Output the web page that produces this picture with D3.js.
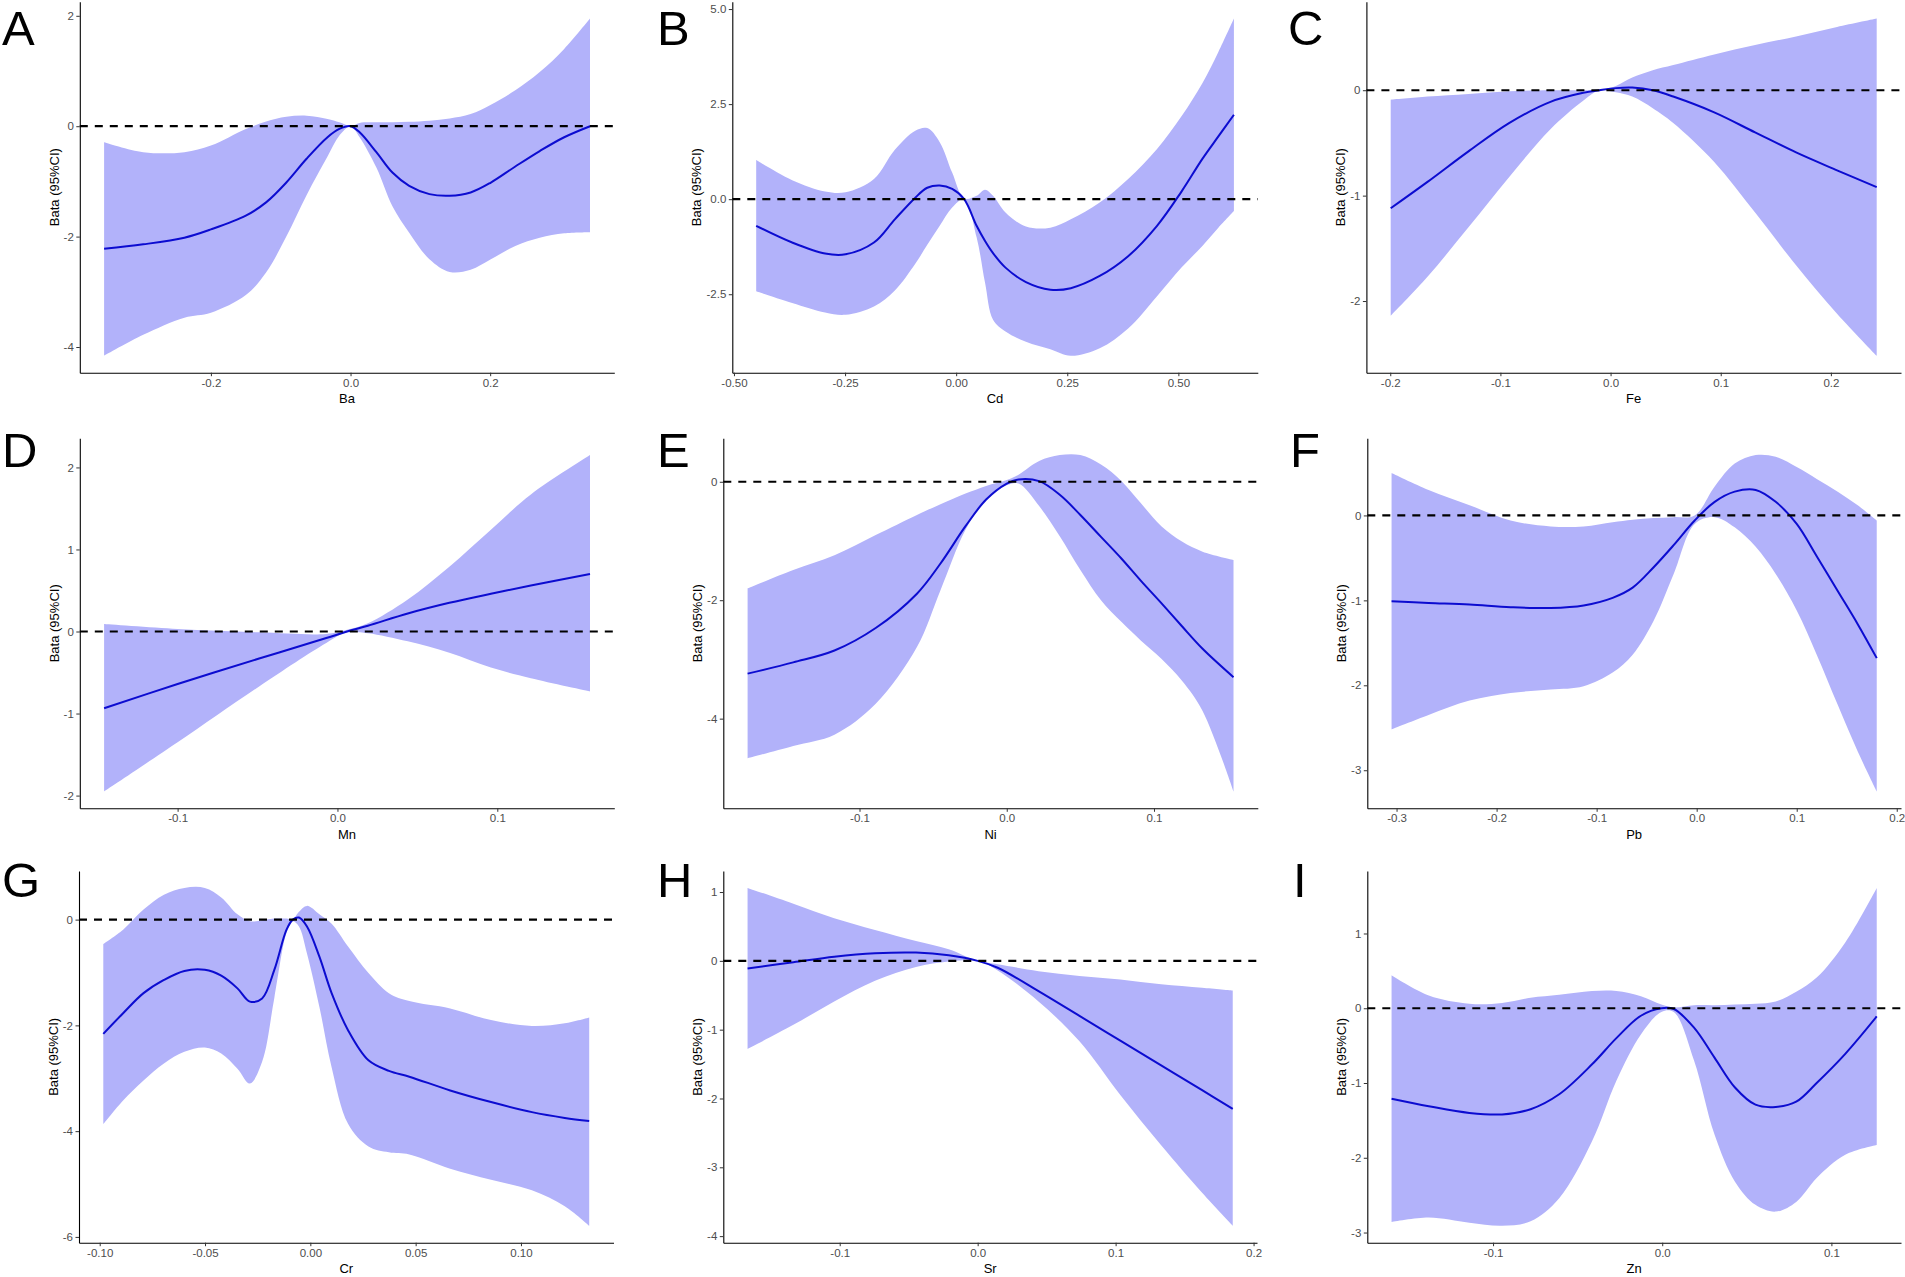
<!DOCTYPE html>
<html>
<head>
<meta charset="utf-8">
<script src="https://cdn.jsdelivr.net/npm/d3@7"></script>
<style>
  body { margin: 0; background: #fff; }
  text { font-family: "Liberation Sans", Arial, sans-serif; }
</style>
</head>
<body>
<svg id="chart" width="1905" height="1277"></svg>
<script>
// ---- data (exposure, fitted beta, 95% CI) ----

// A: Ba
var baX   = [-0.353, -0.297, -0.238, -0.200, -0.150, -0.121, -0.092, -0.063, -0.033, -0.016, 0.000, 0.013, 0.037, 0.060, 0.084, 0.113, 0.142, 0.172, 0.201, 0.236, 0.271, 0.306, 0.343];
var baFit = [-2.22, -2.14, -2.02, -1.87, -1.62, -1.38, -1.02, -0.59, -0.20, -0.05, 0.00, -0.11, -0.47, -0.84, -1.08, -1.23, -1.26, -1.20, -1.02, -0.73, -0.45, -0.20, 0.00];
var baLo  = [-4.16, -3.78, -3.47, -3.38, -3.06, -2.65, -2.00, -1.25, -0.55, -0.17, 0.00, -0.20, -0.75, -1.45, -1.93, -2.41, -2.64, -2.60, -2.41, -2.17, -2.02, -1.94, -1.92];
var baHi  = [-0.29, -0.47, -0.47, -0.35, -0.05, 0.085, 0.17, 0.19, 0.13, 0.07, 0.00, 0.06, 0.07, 0.07, 0.08, 0.10, 0.14, 0.22, 0.39, 0.65, 0.98, 1.40, 1.95];
var baXTicks = [-0.2, 0, 0.2];
var baYTicks = [-4, -2, 0, 2];

// B: Cd
var cdX   = [-0.450, -0.369, -0.295, -0.249, -0.185, -0.138, -0.092, -0.065, -0.037, -0.009, 0.018, 0.046, 0.065, 0.083, 0.111, 0.157, 0.212, 0.258, 0.323, 0.387, 0.452, 0.507, 0.554, 0.590, 0.625];
var cdFit = [-0.70, -1.14, -1.43, -1.45, -1.14, -0.53, 0.04, 0.30, 0.36, 0.27, 0.00, -0.70, -1.10, -1.42, -1.80, -2.18, -2.38, -2.34, -2.02, -1.50, -0.70, 0.20, 1.06, 1.65, 2.22];
var cdLo  = [-2.42, -2.73, -2.98, -3.04, -2.82, -2.40, -1.70, -1.20, -0.70, -0.22, 0.00, -1.00, -2.20, -3.17, -3.48, -3.75, -3.95, -4.12, -3.92, -3.40, -2.55, -1.80, -1.23, -0.75, -0.31];
var cdHi  = [1.03, 0.50, 0.20, 0.18, 0.53, 1.30, 1.80, 1.87, 1.50, 0.70, 0.02, 0.09, 0.25, 0.09, -0.35, -0.72, -0.75, -0.53, -0.09, 0.53, 1.32, 2.18, 3.05, 3.87, 4.75];
var cdXTicks = [-0.5, -0.25, 0, 0.25, 0.5];
var cdYTicks = [-2.5, 0, 2.5, 5];

// C: Fe
var feX   = [-0.1996, -0.1662, -0.1290, -0.0918, -0.0546, -0.0249, -0.0100, 0.0048, 0.0197, 0.0383, 0.0569, 0.0941, 0.1312, 0.1684, 0.2056, 0.2416];
var feFit = [-1.12, -0.87, -0.58, -0.31, -0.11, -0.025, 0.00, 0.02, 0.025, 0.00, -0.06, -0.21, -0.40, -0.59, -0.76, -0.92];
var feLo  = [-2.14, -1.77, -1.30, -0.82, -0.37, -0.10, 0.00, -0.02, -0.06, -0.17, -0.31, -0.68, -1.16, -1.66, -2.12, -2.52];
var feHi  = [-0.09, -0.06, -0.035, -0.01, 0.00, 0.00, 0.00, 0.04, 0.12, 0.19, 0.24, 0.34, 0.43, 0.51, 0.60, 0.68];
var feXTicks = [-0.2, -0.1, 0, 0.1, 0.2];
var feYTicks = [-2, -1, 0];

// D: Mn
var mnX   = [-0.146, -0.100, -0.049, -0.007, 0.006, 0.019, 0.044, 0.070, 0.096, 0.121, 0.158];
var mnFit = [-0.935, -0.64, -0.33, -0.08, 0.00, 0.07, 0.22, 0.35, 0.46, 0.56, 0.70];
var mnLo  = [-1.95, -1.35, -0.67, -0.14, -0.01, -0.02, -0.12, -0.26, -0.44, -0.57, -0.73];
var mnHi  = [0.09, 0.03, -0.01, -0.03, 0.02, 0.10, 0.39, 0.79, 1.24, 1.67, 2.15];
var mnXTicks = [-0.1, 0, 0.1];
var mnYTicks = [-2, -1, 0, 1, 2];

// E: Ni
var niX   = [-0.176, -0.145, -0.117, -0.089, -0.061, -0.045, -0.028, -0.014, 0.000, 0.008, 0.022, 0.036, 0.050, 0.064, 0.078, 0.091, 0.105, 0.119, 0.133, 0.154];
var niFit = [-3.24, -3.05, -2.85, -2.47, -1.89, -1.38, -0.75, -0.30, -0.03, 0.04, 0.01, -0.22, -0.56, -0.93, -1.30, -1.67, -2.05, -2.44, -2.82, -3.30];
var niLo  = [-4.67, -4.46, -4.27, -3.75, -2.79, -1.83, -0.81, -0.30, -0.06, -0.03, -0.41, -0.92, -1.49, -2.00, -2.37, -2.68, -2.99, -3.36, -3.87, -5.23];
var niHi  = [-1.80, -1.49, -1.24, -0.90, -0.56, -0.38, -0.20, -0.07, 0.03, 0.12, 0.35, 0.45, 0.45, 0.29, 0.01, -0.36, -0.75, -1.01, -1.18, -1.32];
var niXTicks = [-0.1, 0, 0.1];
var niYTicks = [-4, -2, 0];

// F: Pb
var pbX   = [-0.305, -0.268, -0.227, -0.186, -0.146, -0.113, -0.084, -0.064, -0.043, -0.023, -0.002, 0.018, 0.038, 0.059, 0.079, 0.100, 0.120, 0.141, 0.161, 0.180];
var pbFit = [-1.01, -1.03, -1.05, -1.08, -1.09, -1.06, -0.97, -0.85, -0.61, -0.35, -0.06, 0.16, 0.28, 0.30, 0.16, -0.10, -0.48, -0.89, -1.28, -1.68];
var pbLo  = [-2.52, -2.35, -2.18, -2.09, -2.05, -2.01, -1.85, -1.64, -1.24, -0.69, -0.10, -0.02, -0.14, -0.37, -0.69, -1.12, -1.64, -2.23, -2.78, -3.25];
var pbHi  = [0.50, 0.30, 0.12, -0.06, -0.13, -0.13, -0.08, -0.05, -0.03, -0.02, 0.00, 0.34, 0.61, 0.71, 0.69, 0.57, 0.43, 0.28, 0.12, -0.06];
var pbXTicks = [-0.3, -0.2, -0.1, 0, 0.1, 0.2];
var pbYTicks = [-3, -2, -1, 0];

// G: Cr
var crX   = [-0.0983, -0.0889, -0.0792, -0.0695, -0.0598, -0.0501, -0.0423, -0.0346, -0.0287, -0.0229, -0.0171, -0.0113, -0.0083, -0.0054, -0.0016, 0.0043, 0.0101, 0.0179, 0.0276, 0.0373, 0.0470, 0.0664, 0.0858, 0.1052, 0.1208, 0.1324];
var crFit = [-2.16, -1.77, -1.39, -1.14, -0.97, -0.95, -1.06, -1.30, -1.55, -1.49, -0.95, -0.19, 0.00, 0.04, -0.13, -0.70, -1.39, -2.09, -2.66, -2.86, -2.97, -3.23, -3.45, -3.64, -3.75, -3.81];
var crLo  = [-3.87, -3.42, -3.04, -2.72, -2.50, -2.42, -2.53, -2.82, -3.10, -2.69, -1.48, -0.25, -0.03, -0.13, -0.64, -1.65, -2.79, -3.86, -4.29, -4.40, -4.44, -4.71, -4.92, -5.12, -5.42, -5.79];
var crHi  = [-0.46, -0.19, 0.19, 0.47, 0.60, 0.60, 0.42, 0.10, -0.03, -0.01, 0.02, 0.02, 0.01, 0.15, 0.26, 0.10, -0.08, -0.51, -1.01, -1.39, -1.54, -1.68, -1.90, -2.01, -1.96, -1.85];
var crXTicks = [-0.1, -0.05, 0, 0.05, 0.1];
var crYTicks = [-6, -4, -2, 0];

// H: Sr
var srX   = [-0.1668, -0.1336, -0.1040, -0.0744, -0.0447, -0.0210, 0.0000, 0.0145, 0.0441, 0.0738, 0.1034, 0.1330, 0.1627, 0.1849];
var srFit = [-0.11, -0.02, 0.06, 0.11, 0.12, 0.08, 0.00, -0.10, -0.44, -0.80, -1.16, -1.52, -1.88, -2.15];
var srLo  = [-1.28, -0.93, -0.59, -0.29, -0.09, -0.01, 0.00, -0.14, -0.59, -1.17, -1.95, -2.68, -3.37, -3.85];
var srHi  = [1.06, 0.83, 0.62, 0.45, 0.29, 0.17, 0.00, -0.05, -0.15, -0.22, -0.27, -0.34, -0.39, -0.43];
var srXTicks = [-0.1, 0, 0.1, 0.2];
var srYTicks = [-4, -3, -2, -1, 0, 1];

// I: Zn
var znX   = [-0.160, -0.138, -0.114, -0.0947, -0.0778, -0.0609, -0.0415, -0.0271, -0.0126, -0.0005, 0.0068, 0.0188, 0.0309, 0.0430, 0.0551, 0.0671, 0.0792, 0.0913, 0.1082, 0.1268];
var znFit = [-1.21, -1.31, -1.40, -1.42, -1.35, -1.15, -0.75, -0.40, -0.10, 0.00, -0.01, -0.26, -0.66, -1.06, -1.29, -1.32, -1.25, -1.00, -0.61, -0.11];
var znLo  = [-2.86, -2.80, -2.87, -2.91, -2.85, -2.54, -1.78, -0.97, -0.35, -0.05, -0.05, -0.70, -1.69, -2.32, -2.63, -2.72, -2.59, -2.27, -1.96, -1.83];
var znHi  = [0.44, 0.17, 0.06, 0.07, 0.14, 0.18, 0.23, 0.23, 0.16, 0.05, 0.01, 0.04, 0.04, 0.05, 0.06, 0.09, 0.22, 0.41, 0.88, 1.61];
var znXTicks = [-0.1, 0, 0.1];
var znYTicks = [-3, -2, -1, 0, 1];

var yTitle = "Bata (95%CI)";

// ---- layout ----
var rowTop = [1.7, 438.3, 871];
var rowBottom = [372.7, 808.3, 1242.7];
var letterBase = [45, 467, 897];

var panels = [
  {letter: "A", name: "Ba", x: baX, fit: baFit, lo: baLo, hi: baHi, xTicks: baXTicks, yTicks: baYTicks, xFmt: ".1f", yFmt: "d",   left: 79.8,   right: 614.3, row: 0, labX: 2},
  {letter: "B", name: "Cd", x: cdX, fit: cdFit, lo: cdLo, hi: cdHi, xTicks: cdXTicks, yTicks: cdYTicks, xFmt: ".2f", yFmt: ".1f", left: 732.3,  right: 1257.8, row: 0, labX: 657},
  {letter: "C", name: "Fe", x: feX, fit: feFit, lo: feLo, hi: feHi, xTicks: feXTicks, yTicks: feYTicks, xFmt: ".1f", yFmt: "d",   left: 1366.4, right: 1901, row: 0, labX: 1288},
  {letter: "D", name: "Mn", x: mnX, fit: mnFit, lo: mnLo, hi: mnHi, xTicks: mnXTicks, yTicks: mnYTicks, xFmt: ".1f", yFmt: "d",   left: 79.8,   right: 614.3, row: 1, labX: 2},
  {letter: "E", name: "Ni", x: niX, fit: niFit, lo: niLo, hi: niHi, xTicks: niXTicks, yTicks: niYTicks, xFmt: ".1f", yFmt: "d",   left: 723.3,  right: 1257.8, row: 1, labX: 657},
  {letter: "F", name: "Pb", x: pbX, fit: pbFit, lo: pbLo, hi: pbHi, xTicks: pbXTicks, yTicks: pbYTicks, xFmt: ".1f", yFmt: "d",   left: 1367.3, right: 1901, row: 1, labX: 1290},
  {letter: "G", name: "Cr", x: crX, fit: crFit, lo: crLo, hi: crHi, xTicks: crXTicks, yTicks: crYTicks, xFmt: ".2f", yFmt: "d",   left: 79,     right: 613.5, row: 2, labX: 2},
  {letter: "H", name: "Sr", x: srX, fit: srFit, lo: srLo, hi: srHi, xTicks: srXTicks, yTicks: srYTicks, xFmt: ".1f", yFmt: "d",   left: 723.3,  right: 1257, row: 2, labX: 657},
  {letter: "I", name: "Zn", x: znX, fit: znFit, lo: znLo, hi: znHi, xTicks: znXTicks, yTicks: znYTicks, xFmt: ".1f", yFmt: "d",   left: 1367.3, right: 1901, row: 2, labX: 1293}
];

// ggplot-style labels use a plain hyphen for the minus sign
var locale = d3.formatLocale({decimal: ".", thousands: ",", grouping: [3], currency: ["", ""], minus: "-"});

var svg = d3.select("#chart");
svg.append("rect").attr("width", 1905).attr("height", 1277).attr("fill", "#fff");

function expand(ext) {
  var pad = (ext[1] - ext[0]) * 0.05;
  return [ext[0] - pad, ext[1] + pad];
}

var smooth = d3.curveCatmullRom.alpha(0.5);

function drawPanel(p) {
  var top = rowTop[p.row], bottom = rowBottom[p.row];
  var g = svg.append("g").attr("class", "panel");

  var x = d3.scaleLinear()
    .domain(expand(d3.extent(p.x)))
    .range([p.left, p.right]);

  var y = d3.scaleLinear()
    .domain(expand(d3.extent(p.lo.concat(p.hi, p.fit, [0]))))
    .range([bottom, top]);

  // confidence band
  var band = d3.area()
    .x(function(d, i) { return x(p.x[i]); })
    .y0(function(d, i) { return y(p.lo[i]); })
    .y1(function(d, i) { return y(p.hi[i]); })
    .curve(smooth);

  g.append("path")
    .datum(p.x)
    .attr("d", band)
    .attr("fill", "#b2b2fa");

  // fitted curve
  var line = d3.line()
    .x(function(d, i) { return x(p.x[i]); })
    .y(function(d, i) { return y(p.fit[i]); })
    .curve(smooth);

  g.append("path")
    .datum(p.x)
    .attr("d", line)
    .attr("fill", "none")
    .attr("stroke", "#0c0cd0")
    .attr("stroke-width", 2);

  // reference line at zero
  g.append("line")
    .attr("x1", p.left)
    .attr("x2", p.right)
    .attr("y1", y(0))
    .attr("y2", y(0))
    .attr("stroke", "#000")
    .attr("stroke-width", 2.2)
    .attr("stroke-dasharray", "8,7");

  // axes
  var xAxis = d3.axisBottom(x)
    .tickValues(p.xTicks)
    .tickFormat(locale.format(p.xFmt))
    .tickSizeInner(3.5)
    .tickSizeOuter(0)
    .tickPadding(2.5);

  var yAxis = d3.axisLeft(y)
    .tickValues(p.yTicks)
    .tickFormat(locale.format(p.yFmt))
    .tickSizeInner(3.5)
    .tickSizeOuter(0)
    .tickPadding(2.5);

  var xg = g.append("g")
    .attr("transform", "translate(0," + bottom + ")")
    .call(xAxis);

  var yg = g.append("g")
    .attr("transform", "translate(" + p.left + ",0)")
    .call(yAxis);

  [xg, yg].forEach(function(ax) {
    ax.attr("font-family", null).attr("font-size", null);
    ax.select(".domain").attr("stroke", "#000").attr("stroke-width", 1.1);
    ax.selectAll(".tick line").attr("stroke", "#333").attr("stroke-width", 1);
    ax.selectAll(".tick text").attr("fill", "#4d4d4d").attr("font-size", "11.5px");
  });

  // axis titles
  g.append("text")
    .attr("x", (p.left + p.right) / 2)
    .attr("y", bottom + 30.5)
    .attr("text-anchor", "middle")
    .attr("font-size", "13px")
    .attr("fill", "#000")
    .text(p.name);

  var bb = yg.node().getBBox();
  var tx = p.left + bb.x - 9.5;
  var ty = (top + bottom) / 2;
  g.append("text")
    .attr("transform", "translate(" + tx + "," + ty + ") rotate(-90)")
    .attr("text-anchor", "middle")
    .attr("dominant-baseline", "central")
    .attr("font-size", "13px")
    .attr("fill", "#000")
    .text(yTitle);

  // panel letter
  svg.append("text")
    .attr("x", p.labX)
    .attr("y", letterBase[p.row])
    .attr("font-size", "49px")
    .attr("fill", "#000")
    .text(p.letter);
}

panels.forEach(drawPanel);
</script>
</body>
</html>
